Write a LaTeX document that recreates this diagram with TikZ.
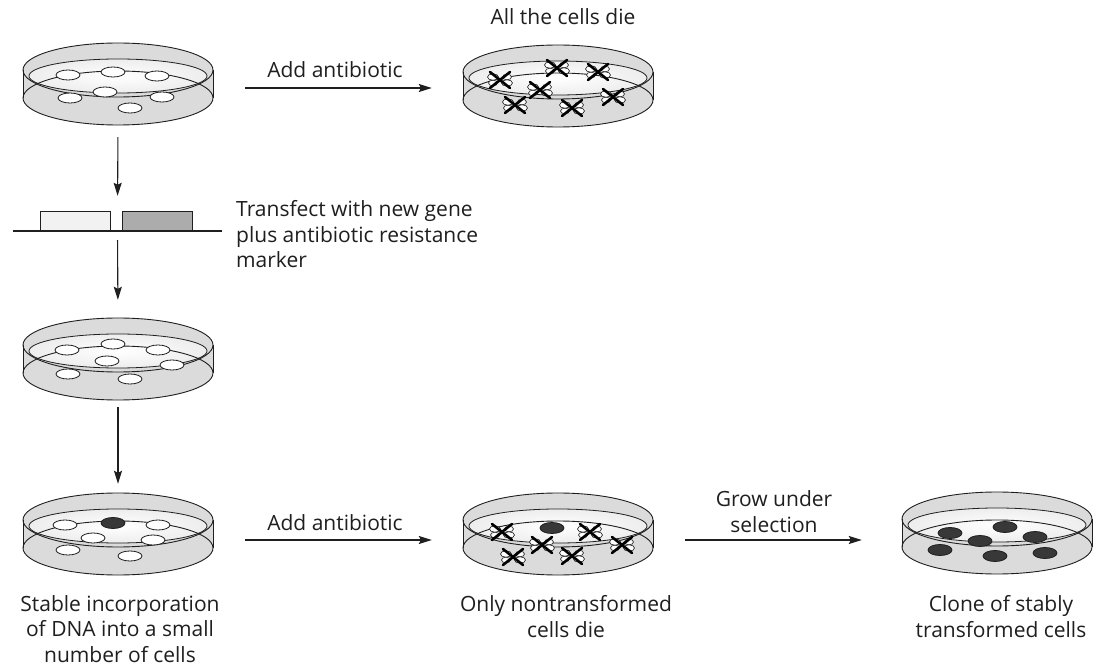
\documentclass[tikz,border=0pt]{standalone}
\usepackage{fontspec}
\setmainfont{Open Sans}
\usetikzlibrary{arrows.meta}
\definecolor{ink}{gray}{0.12}
\definecolor{dishbody}{gray}{0.86}
\definecolor{dishtop}{gray}{0.93}
\definecolor{cellfill}{gray}{0.22}
\tikzset{
  lbl/.style={font=\fontsize{21}{25.5}\selectfont, text=ink, inner sep=0pt, align=center},
  lblleft/.style={lbl, align=left},
  conn/.style={-{Stealth[length=13pt,width=8pt,inset=2pt]}, line width=1.1pt, draw=ink},
  dishspot/.style={minimum width=190pt, minimum height=78pt, inner sep=0pt},
  dish/.pic={
    % transparent body of the dish
    \fill[dishbody] (0,0) ellipse [x radius=95, y radius=27];
    \fill[dishbody] (-95,0) rectangle (95,28);
    \fill[dishbody] (0,28) ellipse [x radius=95, y radius=27];
    \shade[inner color=white, outer color=dishtop] (0,6) ellipse [x radius=89, y radius=17];
    % outlines: lid, inner rim, base and walls
    \draw[ink, line width=0.9pt] (0,0) ellipse [x radius=95, y radius=27];
    \draw[ink, line width=0.8pt] (0,6) ellipse [x radius=89, y radius=17];
    \draw[ink, line width=0.9pt] (0,28) ellipse [x radius=95, y radius=27];
    \draw[ink, line width=0.9pt] (-95,0) -- (-95,28) (95,0) -- (95,28);
  },
  livecell/.pic={
    \draw[ink, fill=white, line width=0.8pt] (0,0) ellipse [x radius=12, y radius=5];
  },
  transcell/.pic={
    \draw[ink, fill=cellfill, line width=0.8pt] (0,0) ellipse [x radius=12, y radius=5.5];
  },
  deadcell/.pic={
    \draw[ink, fill=white, line width=0.6pt] (-7,-3) ellipse [x radius=5.5, y radius=3.2];
    \draw[ink, fill=white, line width=0.6pt] (7,3) ellipse [x radius=5.5, y radius=3.2];
    \draw[ink, fill=white, line width=0.6pt] (7,-3) ellipse [x radius=4.5, y radius=2.8];
    \draw[ink, fill=white, line width=0.6pt] (-7,3) ellipse [x radius=4.5, y radius=2.8];
    \draw[black, line width=2.6pt, line cap=round] (-10,-8) -- (10,8) (-10,8) -- (10,-8);
  }
}
\begin{document}
\begin{tikzpicture}[x=1pt, y=-1pt]
\useasboundingbox[fill=white] (0,0) rectangle (1098,668);

% ---- dishes (pic origin = centre of the lid ellipse) ----
\pic at (118,70) {dish};
\pic at (558,72) {dish};
\pic at (118,345) {dish};
\pic at (118,520) {dish};
\pic at (558,520) {dish};
\pic at (997,519) {dish};

% anchor nodes used by the connectors
\node[dishspot] (dA) at (118,88) {};
\node[dishspot] (dB) at (558,88) {};
\node[dishspot] (dC) at (118,360) {};
\node[dishspot] (dD) at (118,540) {};
\node[dishspot] (dE) at (558,540) {};
\node[dishspot] (dF) at (997,540) {};

% ---- cells ----
% untreated dish
\foreach \p in {(68,75),(113,72),(157,76),(105,92),(70,98),(162,97),(130,108)}
  \pic at \p {livecell};
% all cells killed
\foreach \p in {(500,80),(557,68),(598,72),(540,90),(613,97),(515,105),(572,108)}
  \pic at \p {deadcell};
% after transfection
\foreach \p in {(67,350),(113,344),(158,350),(107,361),(172,365),(68,374),(130,379)}
  \pic at \p {livecell};
% one stably transformed cell
\foreach \p in {(65,525),(158,525),(93,538),(153,540),(68,550),(130,556)}
  \pic at \p {livecell};
\pic at (113,523) {transcell};
% selection
\foreach \p in {(502,532),(590,532),(542,545),(622,545),(513,557),(572,556)}
  \pic at \p {deadcell};
\pic at (552,528) {transcell};
% clone of transformed cells
\foreach \p in {(950,533),(1005,527),(1035,537),(980,541),(940,550),(995,556),(1045,553)}
  \pic at \p {transcell};

% ---- DNA construct: gene + resistance marker ----
\node[minimum width=209pt, minimum height=20pt, inner sep=0pt] (gene) at (117.5,222) {};
\draw[ink, line width=1pt, fill=gray!10] (40,212) rectangle (110,231);
\draw[ink, line width=1pt, fill=gray!65] (122,212) rectangle (192,231);
\draw[ink, line width=1.6pt] (gene.west |- 0,231) -- (gene.east |- 0,231);

% ---- connectors ----
\draw[conn, shorten <=32pt, shorten >=31pt] (dA.east) -- (dB.west);
\draw[conn, shorten <=10pt, shorten >=16pt] (dA.south) -- (gene.north);
\draw[conn, shorten <=8pt, shorten >=21pt] (gene.south) -- (dC.north);
\draw[conn, shorten <=8pt, shorten >=17pt] (dC.south) -- (dD.north);
\draw[conn, shorten <=32pt, shorten >=31pt] (dD.east) -- (dE.west);
\draw[conn, shorten <=32pt, shorten >=40pt] (dE.east) -- (dF.west);

% ---- labels (base = baseline of the last line) ----
\node[lbl, anchor=base] (tAdd1) at (335,78) {Add antibiotic};
\node[lbl, anchor=base] (tDie) at (563,25) {All the cells die};
\node[lblleft, anchor=base west] (tTrans) at (236,268)
  {Transfect with new gene\\plus antibiotic resistance\\marker};
\node[lbl, anchor=base] (tAdd2) at (335,530) {Add antibiotic};
\node[lbl, anchor=base] (tGrow) at (774,532) {Grow under\\selection};
\node[lbl, anchor=base] (tStable) at (120,662)
  {Stable incorporation\\of DNA into a small\\number of cells};
\node[lbl, anchor=base] (tOnly) at (566,637) {Only nontransformed\\cells die};
\node[lbl, anchor=base] (tClone) at (1001,637) {Clone of stably\\transformed cells};
\end{tikzpicture}
\end{document}
